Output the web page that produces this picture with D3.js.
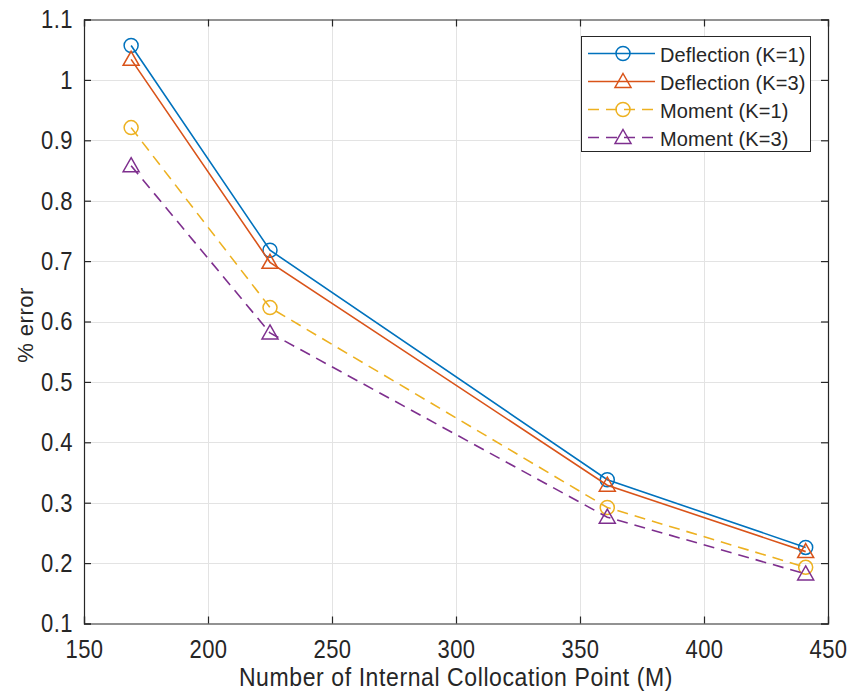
<!DOCTYPE html>
<html>
<head>
<meta charset="utf-8">
<script src="https://cdn.jsdelivr.net/npm/d3@7"></script>
<style>
  body { margin: 0; background: #fff; }
  text { font-family: "Liberation Sans", Arial, sans-serif; fill: #262626; }
</style>
</head>
<body>
<svg id="chart" width="849" height="694"></svg>
<script>
// data
var points = [169, 225, 361, 441];
var deflK1 = [1.057, 0.718, 0.338, 0.226];
var deflK3 = [1.034, 0.698, 0.329, 0.219];
var momK1 = [0.921, 0.623, 0.292, 0.193];
var momK3 = [0.858, 0.581, 0.276, 0.182];
var seriesNames = ["Deflection (K=1)", "Deflection (K=3)", "Moment (K=1)", "Moment (K=3)"];
var xTicks = [150, 200, 250, 300, 350, 400, 450];
var yTicks = [0.1, 0.2, 0.3, 0.4, 0.5, 0.6, 0.7, 0.8, 0.9, 1, 1.1];

var series = [
  { name: seriesNames[0], values: deflK1, color: "#0072BD", marker: "circle", dash: null },
  { name: seriesNames[1], values: deflK3, color: "#D95319", marker: "triangle", dash: null },
  { name: seriesNames[2], values: momK1, color: "#EDB120", marker: "circle", dash: "11,7" },
  { name: seriesNames[3], values: momK3, color: "#7E2F8E", marker: "triangle", dash: "11,7" }
];

var pLeft = 84, pRight = 828, pTop = 19.5, pBottom = 623.5;
var stretch = 1.13; // labels in the figure look slightly tall
var svg = d3.select("#chart");

var x = d3.scaleLinear().domain([150, 450]).range([pLeft, pRight]);
var y = d3.scaleLinear().domain([0.1, 1.1]).range([pBottom, pTop]);

/* grid */
var grid = svg.append("g").attr("stroke", "#e3e3e3").attr("stroke-width", 1);
grid.selectAll(".gx").data(xTicks.slice(1, -1)).enter().append("line")
  .attr("x1", d => Math.round(x(d)) + 0.5).attr("x2", d => Math.round(x(d)) + 0.5)
  .attr("y1", pTop).attr("y2", pBottom);
grid.selectAll(".gy").data(yTicks.slice(1, -1)).enter().append("line")
  .attr("y1", d => Math.round(y(d)) + 0.5).attr("y2", d => Math.round(y(d)) + 0.5)
  .attr("x1", pLeft).attr("x2", pRight);

/* axes */
var xAxis = d3.axisBottom(x).tickValues(xTicks).tickSize(-7).tickFormat(d3.format("d"));
var yAxis = d3.axisLeft(y).tickValues(yTicks).tickSize(-7).tickPadding(11).tickFormat(d => d === 1 ? "1" : d3.format(".1f")(d));
var xTop = d3.axisTop(x).tickValues(xTicks).tickSize(-7).tickFormat("");
var yRight = d3.axisRight(y).tickValues(yTicks).tickSize(-7).tickFormat("");

function styleAxis(g) {
  g.selectAll("path, line").attr("stroke", "#262626").attr("stroke-width", 1.2);
  g.selectAll("text").attr("font-size", 22).attr("fill", "#262626")
    .attr("font-family", "'Liberation Sans', Arial, sans-serif").attr("letter-spacing", 0.5);
}
svg.append("g").attr("transform", `translate(0,${pBottom})`).call(xAxis).call(styleAxis)
  .selectAll("text").attr("y", 34.5 / stretch).attr("dy", null)
  .attr("transform", `scale(1,${stretch})`);
svg.append("g").attr("transform", `translate(${pLeft},0)`).call(yAxis).call(styleAxis)
  .selectAll("text").attr("dy", "0.34em").attr("transform", `scale(1,${stretch})`);
svg.append("g").attr("transform", `translate(0,${pTop})`).call(xTop).call(styleAxis);
svg.append("g").attr("transform", `translate(${pRight},0)`).call(yRight).call(styleAxis);

/* axis labels */
svg.append("text").attr("transform", `translate(${(pLeft + pRight) / 2},686) scale(1,${stretch})`)
  .attr("text-anchor", "middle").attr("font-size", 23).attr("letter-spacing", 0.6)
  .text("Number of Internal Collocation Point (M)");
svg.append("text").attr("transform", `translate(33,325) rotate(-90)`)
  .attr("text-anchor", "middle").attr("font-size", 22).attr("letter-spacing", 0.5)
  .text("% error");

/* lines */
var line = d3.line().x((d, i) => x(points[i])).y(d => y(d));
function drawMarker(g, type, cx, cy, color) {
  if (type === "circle") {
    g.append("circle").attr("cx", cx).attr("cy", cy).attr("r", 7)
      .attr("fill", "none").attr("stroke", color).attr("stroke-width", 1.5);
  } else {
    var s = 8;
    g.append("path")
      .attr("d", `M${cx},${cy - s}L${cx + s},${cy + s * 0.75}L${cx - s},${cy + s * 0.75}Z`)
      .attr("fill", "none").attr("stroke", color).attr("stroke-width", 1.5);
  }
}
var plot = svg.append("g");
series.forEach(function (s) {
  var g = plot.append("g");
  g.append("path").attr("d", line(s.values)).attr("fill", "none")
    .attr("stroke", s.color).attr("stroke-width", 1.6)
    .attr("stroke-dasharray", s.dash);
  s.values.forEach(function (v, i) { drawMarker(g, s.marker, x(points[i]), y(v), s.color); });
});

/* legend */
var lg = svg.append("g");
lg.append("rect").attr("x", 581.5).attr("y", 36.5).attr("width", 229).attr("height", 115)
  .attr("fill", "#fff").attr("stroke", "#262626").attr("stroke-width", 1);
series.forEach(function (s, i) {
  var ly = 53.5 + i * 28;
  lg.append("line").attr("x1", 588).attr("x2", 655).attr("y1", ly).attr("y2", ly)
    .attr("stroke", s.color).attr("stroke-width", 1.6).attr("stroke-dasharray", s.dash);
  drawMarker(lg, s.marker, 623, ly, s.color);
  lg.append("text").attr("x", 660).attr("y", ly + 8).attr("font-size", 20)
    .attr("letter-spacing", 0.1).text(s.name);
});
</script>
</body>
</html>
